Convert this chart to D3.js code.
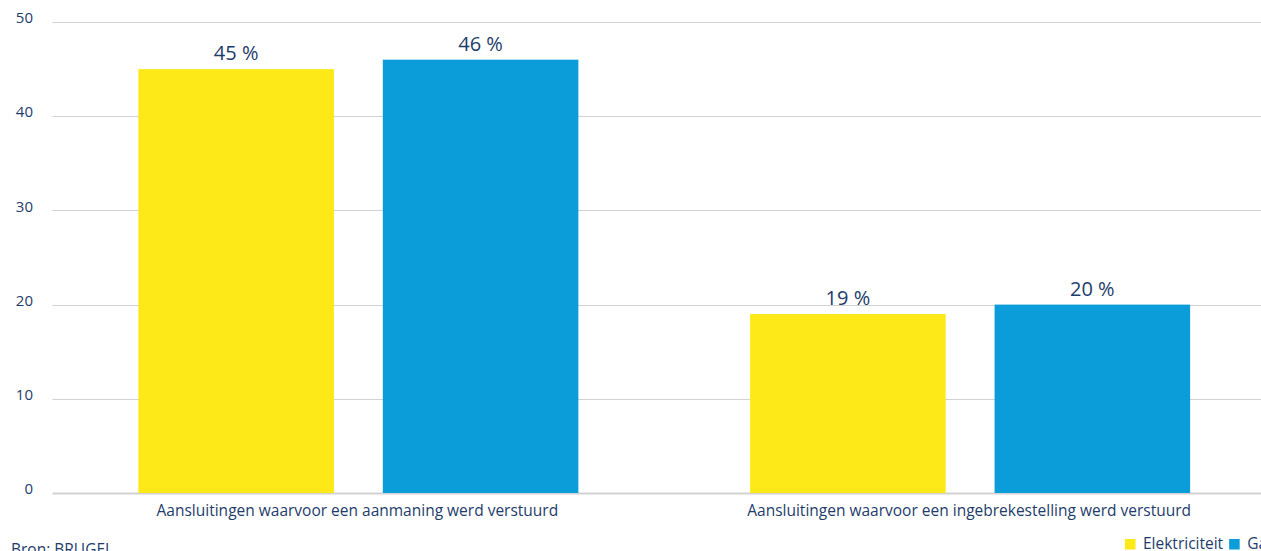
<!DOCTYPE html>
<html>
<head>
<meta charset="utf-8">
<script src="https://cdn.jsdelivr.net/npm/d3@7"></script>
<style>
  html, body { margin: 0; padding: 0; background: #fff; overflow: hidden; }
  svg { display: block; }
  text { font-family: "Open Sans", "Noto Sans", sans-serif; fill: #1e3d6b; }
</style>
</head>
<body>
<svg id="chart" width="1261" height="551"></svg>
<script>
// Categories, series and their values
const categories = [
  "Aansluitingen waarvoor een aanmaning werd verstuurd",
  "Aansluitingen waarvoor een ingebrekestelling werd verstuurd"
];
const seriesNames = ["Elektriciteit", "Gas"];
const elektriciteit = [45, 19];
const gas = [46, 20];
const yTicks = [0, 10, 20, 30, 40, 50];
const colors = ["#fde918", "#0a9dd9"];

const values = [elektriciteit, gas];

const svg = d3.select("#chart");
const margin = { left: 52.5, right: -15, top: 22, bottom: 58 };
const W = 1261, H = 551;

const x = d3.scaleBand()
  .domain(categories)
  .range([margin.left, W - margin.right])
  .paddingInner(0)
  .paddingOuter(0);

const bandInner = 440; // width taken by both bars of a group
const xs = d3.scaleBand()
  .domain(seriesNames)
  .range([(x.bandwidth() - bandInner) / 2, (x.bandwidth() + bandInner) / 2])
  .paddingInner(0.2)
  .paddingOuter(0);

const y = d3.scaleLinear()
  .domain([0, 50])
  .range([H - margin.bottom, margin.top]);

// Gridlines
svg.append("g")
  .selectAll("line")
  .data(yTicks)
  .join("line")
  .attr("x1", margin.left)
  .attr("x2", W)
  .attr("y1", d => Math.round(y(d)) + 0.5)
  .attr("y2", d => Math.round(y(d)) + 0.5)
  .attr("stroke", "#d2d2d2")
  .attr("stroke-width", d => d === 0 ? 2 : 1.2);

// Y axis labels
const yAxis = d3.axisLeft(y).tickValues(yTicks).tickSize(0).tickPadding(0);
const gy = svg.append("g").attr("transform", "translate(33,0)").call(yAxis);
gy.select(".domain").remove();
gy.selectAll("text")
  .attr("font-size", 15)
  .attr("fill", "#1e3d6b")
  .attr("dy", "0.05em")
  .style("font-family", "'Open Sans', sans-serif");

// Bars
const groups = svg.append("g")
  .selectAll("g")
  .data(categories)
  .join("g")
  .attr("transform", d => `translate(${x(d)},0)`);

groups.each(function(cat, ci) {
  const g = d3.select(this);
  seriesNames.forEach((s, si) => {
    const v = values[si][ci];
    g.append("rect")
      .attr("x", xs(s))
      .attr("width", xs.bandwidth())
      .attr("y", y(v))
      .attr("height", y(0) - y(v))
      .attr("fill", colors[si]);
    g.append("text")
      .attr("x", xs(s) + xs.bandwidth() / 2)
      .attr("y", y(v) - 9)
      .attr("text-anchor", "middle")
      .attr("font-size", 20)
      .text(v + " %");
  });
  g.append("text")
    .attr("x", x.bandwidth() / 2 - 1)
    .attr("y", y(0) + 23)
    .attr("text-anchor", "middle")
    .attr("font-size", 15.5)
    .text(cat);
});

// Source note
svg.append("text")
  .attr("x", 11)
  .attr("y", 555)
  .attr("font-size", 15.5)
  .text("Bron: BRUGEL");

// Legend
const legend = svg.append("g").attr("transform", "translate(1125,539)");
let lx = 0;
seriesNames.forEach((s, i) => {
  legend.append("rect")
    .attr("x", lx).attr("y", 0)
    .attr("width", 10.5).attr("height", 10.5)
    .attr("fill", colors[i]);
  const t = legend.append("text")
    .attr("x", lx + 18).attr("y", 10)
    .attr("font-size", 15.5)
    .text(s);
  lx += 18 + t.node().getComputedTextLength() + 6;
});
</script>
</body>
</html>
